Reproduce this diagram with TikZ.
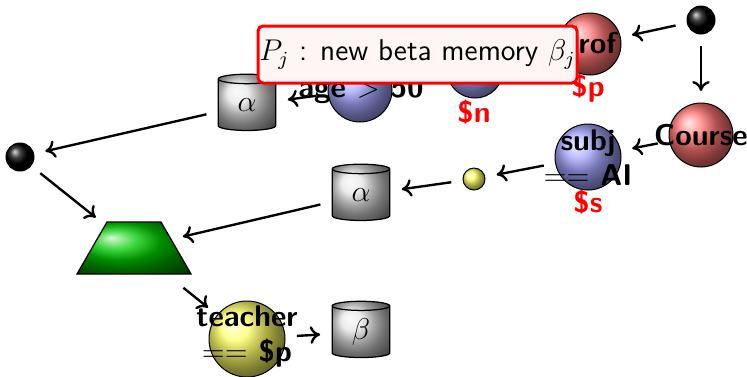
\documentclass[tikz,border=0pt]{standalone}
\usetikzlibrary{shapes.geometric,arrows.meta}
\begin{document}
\begin{tikzpicture}[x=0.4pt,y=-0.4pt,
  ball/.style={circle,draw=black,line width=0.4pt,inner sep=0pt,shading=ball},
  darkball/.style={ball,ball color=black,minimum size=11.2pt},
  classball/.style={ball,ball color=red!55!white},
  testball/.style={ball,ball color=blue!35!white},
  joinball/.style={ball,ball color=yellow!60!white},
  balltext/.style={font=\sffamily\bfseries\large,align=center,inner sep=0pt},
  varlabel/.style={font=\sffamily\bfseries\large,text=red,inner sep=0pt},
  memory/.style={cylinder,shape border rotate=90,aspect=0.5,draw=black,line width=0.5pt,
    shading=ball,ball color=gray!20!white,minimum width=23pt,minimum height=22.5pt,
    inner sep=0pt,font=\large},
  joinnode/.style={trapezium,trapezium left angle=60,trapezium right angle=60,
    inner xsep=10.8pt,inner ysep=10.4pt,draw=black,line width=0.5pt,shading=ball,
    ball color=green!80!black},
  flow/.style={-{Computer Modern Rightarrow[length=4pt,width=7pt]},line width=0.95pt,
    shorten <=4.6pt,shorten >=4.6pt},
  callout/.style={draw=red,line width=1.2pt,rounded corners=2pt,fill=red!4!white,
    minimum width=127.6pt,minimum height=22.8pt,inner sep=0pt,font=\sffamily\large}
]
\useasboundingbox (0,0) rectangle (747,376);

% alpha network: class and attribute tests
\node[darkball] (root) at (701,20) {};
\node[classball,minimum size=24.8pt] (prof) at (590,44) {};
\node[testball,minimum size=22.4pt] (name) at (475,70) {};
\node[testball,minimum size=25.6pt] (age) at (360,90) {};
\node[classball,minimum size=25.6pt] (course) at (701,135) {};
\node[testball,minimum size=26.4pt] (subj) at (588,157) {};
\node[joinball,minimum size=8.8pt] (merge) at (474,179) {};

% memories
\node[memory] (alphaA) at (247,105) {$\alpha$};
\node[memory] (alphaB) at (361,195) {$\alpha$};
\node[memory] (beta) at (361,332) {$\beta$};

% beta network
\node[darkball] (top) at (20,157) {};
\node[joinnode] (join) at (134,248) {};
\node[joinball,minimum size=30.4pt] (teacher) at (247,339) {};

% connections
\draw[flow] (root) -- (prof);
\draw[flow] (root) -- (course);
\draw[flow] (course) -- (subj);
\draw[flow] (subj) -- (merge);
\draw[flow] (merge) -- (alphaB);
\draw[flow] (age) -- (alphaA);
\draw[flow] (alphaA) -- (top);
\draw[flow] (top) -- (join);
\draw[flow] (alphaB) -- (join);
\draw[flow,shorten <=8.4pt] (join) -- (teacher);
\draw[flow] (teacher) -- (beta);

% test texts and variable bindings
\node[balltext] (profT) at (587,43) {Prof};
\node[balltext] (ageT) at (361,90) {age $>$ 50};
\node[balltext] (courseT) at (701,135) {Course};
\node[balltext] (subjT) at (588,158) {subj\\$==$ AI};
\node[balltext] (teacherT) at (247,336) {teacher\\$==$ \$p};
\node[varlabel] (pvar) at (588,88) {\$p};
\node[varlabel] (nvar) at (474,112) {\$n};
\node[varlabel] (svar) at (588,202) {\$s};

% annotation
\node[callout] (note) at (417.5,54.5) {$P_j$ : new beta memory $\beta_j$};
\end{tikzpicture}
\end{document}
